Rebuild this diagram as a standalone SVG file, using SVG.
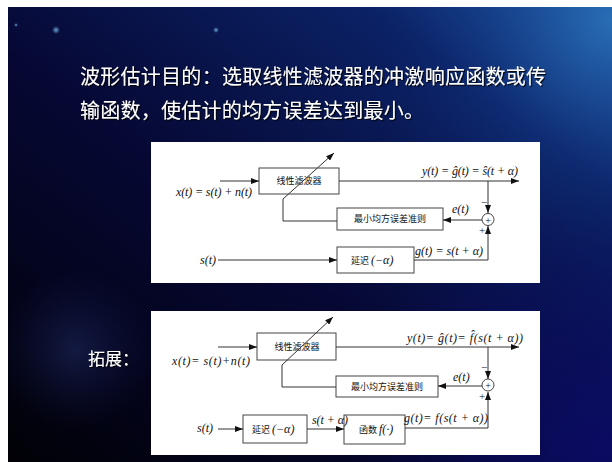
<svg xmlns="http://www.w3.org/2000/svg" width="612" height="462" viewBox="0 0 612 462">
<defs>
<linearGradient id="bg" x1="0" y1="1" x2="1" y2="0">
<stop offset="0" stop-color="#010106"/>
<stop offset="0.45" stop-color="#060834"/>
<stop offset="0.8" stop-color="#0b2266"/>
<stop offset="1" stop-color="#1c5aa6"/>
</linearGradient>
<radialGradient id="tr" cx="612" cy="20" r="260" gradientUnits="userSpaceOnUse">
<stop offset="0" stop-color="#2a70b8" stop-opacity="0.9"/>
<stop offset="0.5" stop-color="#163f8a" stop-opacity="0.4"/>
<stop offset="1" stop-color="#0a1a60" stop-opacity="0"/>
</radialGradient>
<radialGradient id="br" cx="600" cy="450" r="260" gradientUnits="userSpaceOnUse">
<stop offset="0" stop-color="#0b0b66" stop-opacity="0.9"/>
<stop offset="1" stop-color="#0b0b66" stop-opacity="0"/>
</radialGradient>
<radialGradient id="fig" cx="75" cy="350" r="80" gradientUnits="userSpaceOnUse">
<stop offset="0" stop-color="#2a3a80" stop-opacity="0.4"/>
<stop offset="1" stop-color="#1a2060" stop-opacity="0"/>
</radialGradient>
<radialGradient id="star" cx="0.5" cy="0.5" r="0.5">
<stop offset="0" stop-color="#6fb0e0" stop-opacity="0.9"/>
<stop offset="1" stop-color="#6fb0e0" stop-opacity="0"/>
</radialGradient>
<filter id="sh" x="-5%" y="-20%" width="110%" height="140%">
<feDropShadow dx="1.2" dy="1.2" stdDeviation="0.6" flood-color="#000" flood-opacity="0.9"/>
</filter>
<marker id="ah" markerWidth="8" markerHeight="6" refX="8" refY="3" orient="auto" markerUnits="userSpaceOnUse">
<path d="M0,0 L8,3 L0,6 Z" fill="#111"/>
</marker>
<style>
.ln{stroke:#333;stroke-width:1;fill:none}
.bx{stroke:#444;stroke-width:1;fill:#fff}
.m{font-family:"Liberation Serif",serif;font-style:italic;font-size:12px;fill:#111}
.mr{font-family:"Liberation Serif",serif;font-size:11px;fill:#111}
.cn{font-family:"Noto Sans CJK SC",sans-serif;font-size:9px;fill:#111}
.t{font-family:"Noto Sans CJK SC",sans-serif;font-size:20px;fill:#fff;filter:url(#sh)}
</style>
</defs>
<rect x="0" y="0" width="612" height="462" fill="#fff"/>
<g id="background">
<rect x="8" y="7" width="604" height="455" fill="url(#bg)"/>
<rect x="8" y="7" width="604" height="455" fill="url(#br)"/>
<rect x="8" y="7" width="604" height="455" fill="url(#tr)"/>
<rect x="8" y="7" width="604" height="455" fill="url(#fig)"/>
<circle cx="16" cy="25" r="2" fill="url(#star)"/>
<circle cx="56" cy="30" r="4" fill="url(#star)"/>
<circle cx="216" cy="30" r="3" fill="url(#star)"/>
</g>
<g id="title">
<text class="t" x="80" y="84" textLength="466" lengthAdjust="spacing">波形估计目的：选取线性滤波器的冲激响应函数或传</text>
<text class="t" x="80" y="118" textLength="344" lengthAdjust="spacing">输函数，使估计的均方误差达到最小。</text>
<text class="t" x="88" y="365" style="font-size:17px">拓展：</text>
</g>
<rect id="panel1" x="151" y="142" width="389" height="141" fill="#fff"/>
<rect id="panel2" x="151" y="311" width="389" height="144" fill="#fff"/>
<g id="filter1">
<rect class="bx" x="259" y="168" width="80" height="26"/>
<text class="cn" x="299" y="184" text-anchor="middle">线性滤波器</text>
</g>
<g id="mmse1">
<rect class="bx" x="337" y="208" width="106" height="22"/>
<text class="cn" x="390" y="222" text-anchor="middle">最小均方误差准则</text>
</g>
<g id="sum1">
<circle class="bx" cx="488" cy="219.5" r="6"/>
<text class="mr" x="488" y="223.5" text-anchor="middle" style="font-size:10px">+</text>
</g>
<g id="delay1">
<rect class="bx" x="337" y="247" width="77" height="26"/>
<text class="cn" x="351" y="264">延迟</text>
<text class="m" x="371" y="264">(−α)</text>
</g>
<g id="filter2">
<rect class="bx" x="257" y="333" width="79" height="27"/>
<text class="cn" x="297" y="350" text-anchor="middle">线性滤波器</text>
</g>
<g id="mmse2">
<rect class="bx" x="336" y="376" width="102" height="21"/>
<text class="cn" x="387" y="390" text-anchor="middle">最小均方误差准则</text>
</g>
<g id="sum2">
<circle class="bx" cx="488" cy="385" r="6"/>
<text class="mr" x="488" y="389" text-anchor="middle" style="font-size:10px">+</text>
</g>
<g id="delay2">
<rect class="bx" x="243" y="415" width="64" height="28"/>
<text class="cn" x="252" y="433">延迟</text>
<text class="m" x="272" y="433">(−α)</text>
</g>
<g id="func2">
<rect class="bx" x="344" y="415" width="61" height="29"/>
<text class="cn" x="359" y="433">函数</text>
<text class="m" x="379" y="433">f(·)</text>
</g>
<g id="connectors">
<line class="ln" x1="220" y1="181" x2="259" y2="181" marker-end="url(#ah)"/>
<line class="ln" x1="339" y1="181" x2="519" y2="181" marker-end="url(#ah)"/>
<line class="ln" x1="283" y1="199" x2="334" y2="153" marker-end="url(#ah)"/>
<polyline class="ln" points="283,199 283,221 337,221"/>
<line class="ln" x1="488" y1="181" x2="488" y2="213" marker-end="url(#ah)"/>
<line class="ln" x1="482" y1="220" x2="443" y2="220" marker-end="url(#ah)"/>
<polyline class="ln" points="414,260 488,260 488,226" marker-end="url(#ah)"/>
<line class="ln" x1="218" y1="260" x2="337" y2="260" marker-end="url(#ah)"/>
<line class="ln" x1="218" y1="347" x2="257" y2="347" marker-end="url(#ah)"/>
<line class="ln" x1="336" y1="347" x2="519" y2="347" marker-end="url(#ah)"/>
<line class="ln" x1="282" y1="365" x2="333" y2="317" marker-end="url(#ah)"/>
<polyline class="ln" points="282,365 282,387 336,387"/>
<line class="ln" x1="488" y1="347" x2="488" y2="379" marker-end="url(#ah)"/>
<line class="ln" x1="482" y1="386" x2="438" y2="386" marker-end="url(#ah)"/>
<polyline class="ln" points="405,428 488,428 488,392" marker-end="url(#ah)"/>
<line class="ln" x1="218" y1="429" x2="243" y2="429" marker-end="url(#ah)"/>
<line class="ln" x1="307" y1="429" x2="344" y2="429" marker-end="url(#ah)"/>
</g>
<g id="labels1">
<text class="m" x="176" y="196" textLength="76" lengthAdjust="spacing">x(t) = s(t) + n(t)</text>
<text class="m" x="422" y="175" textLength="96" lengthAdjust="spacing">y(t) = ĝ(t) = ŝ(t + α)</text>
<text class="m" x="452" y="213">e(t)</text>
<text class="mr" x="481" y="206">−</text>
<text class="mr" x="479" y="234">+</text>
<text class="m" x="200" y="264">s(t)</text>
<text class="m" x="415" y="255" textLength="68" lengthAdjust="spacing">g(t) = s(t + α)</text>
</g>
<g id="labels2">
<text class="m" x="172" y="365" textLength="78" lengthAdjust="spacing">x(t)= s(t)+n(t)</text>
<text class="m" x="407" y="342" textLength="116" lengthAdjust="spacing">y(t)= ĝ(t)= f̂(s(t + α))</text>
<text class="m" x="453" y="381">e(t)</text>
<text class="mr" x="481" y="371">−</text>
<text class="mr" x="479" y="400">+</text>
<text class="m" x="197" y="432">s(t)</text>
<text class="m" x="312" y="424" textLength="36" lengthAdjust="spacing">s(t + α)</text>
<text class="m" x="404" y="422" textLength="84" lengthAdjust="spacing">g(t)= f(s(t + α))</text>
</g>
</svg>
